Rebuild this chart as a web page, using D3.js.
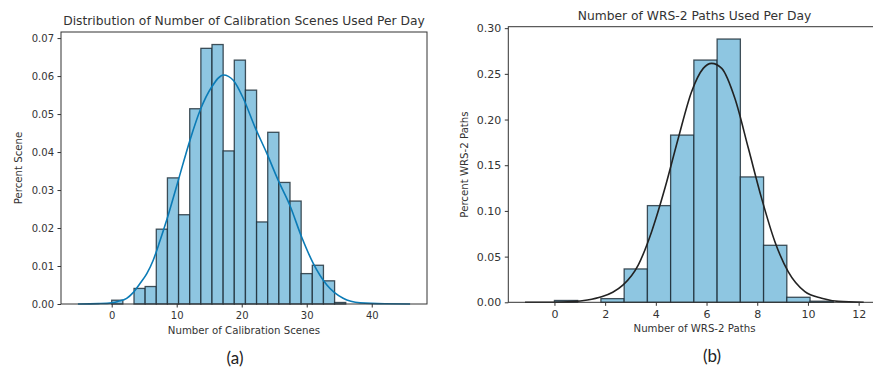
<!DOCTYPE html>
<html><head><meta charset="utf-8">
<script src="https://cdn.jsdelivr.net/npm/d3@7"></script>
<style>
html,body{margin:0;padding:0;background:#fff;}
svg{display:block;font-family:"DejaVu Sans",sans-serif;}
</style></head>
<body>
<svg id="c" width="873" height="369"></svg>
<script>
// ---------- Data: panel (a) ----------
const sceneBinStart = [0, 1.714, 3.429, 5.143, 6.857, 8.571, 10.286, 12, 13.714, 15.429, 17.143,
  18.857, 20.571, 22.286, 24, 25.714, 27.429, 29.143, 30.857, 32.571, 34.286];
const sceneBinWidth = 1.714;
const sceneDensity = [0.001, 0, 0.0041, 0.0046, 0.0197, 0.0332, 0.0235, 0.0514, 0.0673, 0.0683, 0.0403,
  0.0642, 0.0563, 0.0216, 0.0452, 0.0320, 0.0271, 0.0080, 0.0102, 0.0061, 0.0004];
const sceneKdeX = [-5.2, -2, 0, 1, 2.3, 3.3, 4.35, 5.4, 6.4, 7.4, 8.46, 10.25, 12.05, 13.6, 15.4, 17.2,
  18.7, 20.25, 22.0, 23.85, 25.6, 27.4, 29.2, 31.0, 33.1, 35.6, 38.2, 42, 45.9];
const sceneKdeY = [0, 0.0001, 0.0003, 0.0007, 0.0015, 0.003, 0.0054, 0.008, 0.0116, 0.0165, 0.0221, 0.0326,
  0.0432, 0.051, 0.0572, 0.0603, 0.0589, 0.0541, 0.0467, 0.0397, 0.0326, 0.026, 0.0177, 0.0107, 0.005,
  0.0015, 0.0003, 0.00005, 0];
const sceneXTicks = [0, 10, 20, 30, 40];
const sceneYTicks = [0, 0.01, 0.02, 0.03, 0.04, 0.05, 0.06, 0.07];

// ---------- Data: panel (b) ----------
const pathBinStart = [0, 0.917, 1.833, 2.75, 3.667, 4.583, 5.5, 6.417, 7.333, 8.25, 9.167, 10.083];
const pathBinWidth = 0.917;
const pathDensity = [0.002, 0, 0.004, 0.0365, 0.1058, 0.183, 0.2651, 0.2881, 0.1372, 0.0624, 0.0055, 0.0012];
const pathFitX = [-1.16, 0, 0.68, 1.3, 1.86, 2.3, 2.71, 3.31, 3.83, 4.36, 4.88, 5.41, 5.87, 6.2, 6.6, 7.12,
  7.65, 8.17, 8.7, 9.22, 9.88, 10.54, 11.2, 12.2];
const pathFitY = [0, 0.0001, 0.0007, 0.0025, 0.006, 0.011, 0.019, 0.041, 0.077, 0.125, 0.179, 0.2305, 0.256,
  0.2615, 0.256, 0.223, 0.1685, 0.114, 0.066, 0.0335, 0.0116, 0.0044, 0.001, 0];
const pathXTicks = [0, 2, 4, 6, 8, 10, 12];
const pathYTicks = [0, 0.05, 0.10, 0.15, 0.20, 0.25, 0.30];

const svg = d3.select("#c");
const TXT = "#333";
const BAR_FILL = "#8ec6e1";
const BAR_EDGE = "rgba(25,40,50,0.8)";

function panel(o) {
  const g = svg.append("g");
  const x = d3.scaleLinear().domain(o.xDomain).range([o.left, o.right]);
  const y = d3.scaleLinear().domain(o.yDomain).range([o.bottom, o.top]);

  // bars
  g.append("g").selectAll("rect").data(o.starts).join("rect")
    .attr("x", (d) => x(d))
    .attr("width", (d) => x(d + o.binW) - x(d))
    .attr("y", (d, i) => y(o.heights[i]))
    .attr("height", (d, i) => y(0) - y(o.heights[i]))
    .attr("fill", BAR_FILL)
    .attr("stroke", BAR_EDGE)
    .attr("stroke-width", 1.3);

  // curve
  const pts = o.cx.map((v, i) => [v, o.cy[i]]);
  g.append("path").datum(pts)
    .attr("d", d3.line().x((d) => x(d[0])).y((d) => y(d[1])).curve(d3.curveMonotoneX))
    .attr("fill", "none").attr("stroke", o.curveColor).attr("stroke-width", 1.6);

  // spines
  g.append("rect").attr("x", o.left).attr("y", o.top)
    .attr("width", o.right - o.left).attr("height", o.bottom - o.top)
    .attr("fill", "none").attr("stroke", "#333").attr("stroke-width", 1);

  // axes
  const ax = g.append("g").attr("transform", `translate(0,${o.bottom})`)
    .call(d3.axisBottom(x).tickValues(o.xTicks).tickFormat(d3.format("d"))
      .tickSize(3.5).tickSizeOuter(0).tickPadding(4.5));
  const ay = g.append("g").attr("transform", `translate(${o.left},0)`)
    .call(d3.axisLeft(y).tickValues(o.yTicks).tickFormat(d3.format(".2f"))
      .tickSize(3.5).tickSizeOuter(0).tickPadding(3.5));
  [ax, ay].forEach((a) => {
    a.select(".domain").remove();
    a.selectAll("line").attr("stroke", "#333");
    a.selectAll("text").attr("fill", TXT).attr("font-size", o.tickFont).attr("font-family", "DejaVu Sans");
  });

  // title & labels
  g.append("text").attr("x", (o.left + o.right) / 2).attr("y", o.top - 7)
    .attr("text-anchor", "middle").attr("font-size", 12.3).attr("fill", TXT).text(o.title);
  g.append("text").attr("x", (o.left + o.right) / 2).attr("y", o.bottom + 30)
    .attr("text-anchor", "middle").attr("font-size", 10.2).attr("fill", TXT).text(o.xLabel);
  g.append("text").attr("transform", `translate(${o.yLabelX},${(o.top + o.bottom) / 2}) rotate(-90)`)
    .attr("text-anchor", "middle").attr("font-size", 10.2).attr("fill", TXT).text(o.yLabel);
  g.append("text").attr("x", o.tagX).attr("y", o.tagY)
    .attr("text-anchor", "middle").attr("font-size", 17).attr("font-family", "Lato, 'Open Sans', sans-serif")
    .attr("fill", "#222").text(o.tag);
}

panel({
  left: 61, right: 427, top: 32, bottom: 304,
  xDomain: [-7.8, 48.5], yDomain: [0, 0.0716],
  starts: sceneBinStart, binW: sceneBinWidth, heights: sceneDensity,
  cx: sceneKdeX, cy: sceneKdeY, curveColor: "#0b7bb6", tickFont: 10,
  xTicks: sceneXTicks, yTicks: sceneYTicks,
  title: "Distribution of Number of Calibration Scenes Used Per Day",
  xLabel: "Number of Calibration Scenes", yLabel: "Percent Scene", yLabelX: 21.5,
  tag: "(a)", tagX: 235, tagY: 364
});

panel({
  left: 508.3, right: 880.7, top: 26.7, bottom: 302.3,
  xDomain: [-1.82, 12.87], yDomain: [0, 0.3016],
  starts: pathBinStart, binW: pathBinWidth, heights: pathDensity,
  cx: pathFitX, cy: pathFitY, curveColor: "#222", tickFont: 11,
  xTicks: pathXTicks, yTicks: pathYTicks,
  title: "Number of WRS-2 Paths Used Per Day",
  xLabel: "Number of WRS-2 Paths", yLabel: "Percent WRS-2 Paths", yLabelX: 468,
  tag: "(b)", tagX: 712, tagY: 362
});
</script>
</body></html>
